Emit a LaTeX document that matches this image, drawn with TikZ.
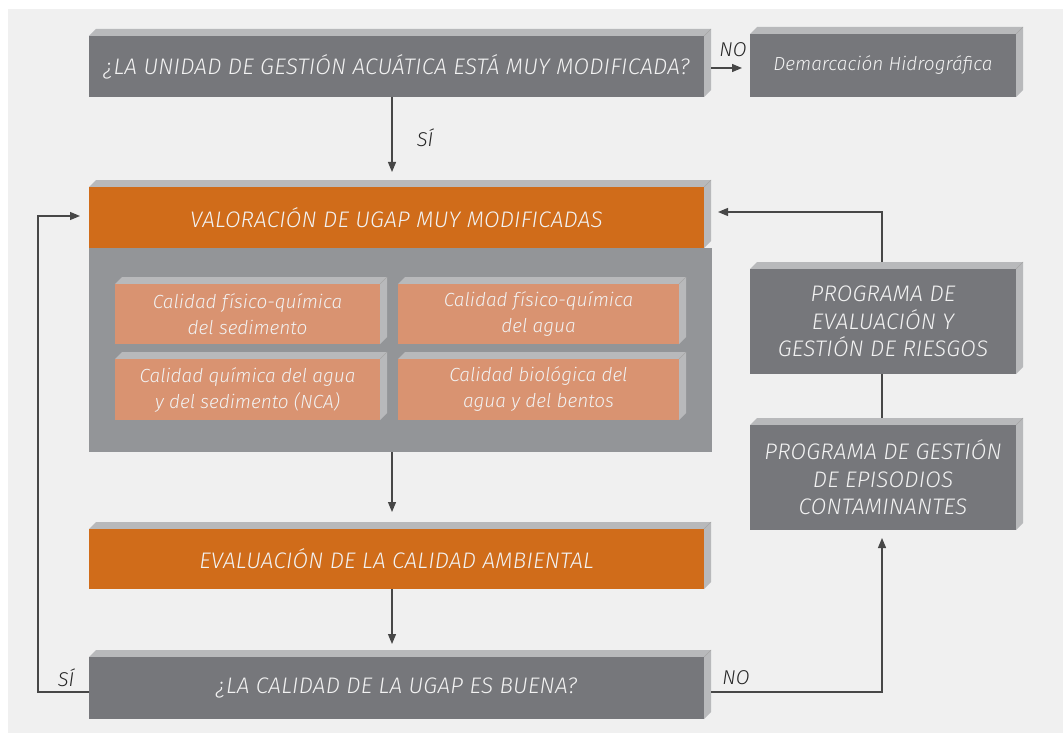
\documentclass[tikz,border=0pt]{standalone}
\usepackage{fontspec}
\setmainfont{Fira Sans}[UprightFont={* Light}, ItalicFont={* Light Italic}]
\newfontfamily\capsfont{Fira Sans}[UprightFont={* Light}, ItalicFont={* Light Italic}, LetterSpace=1]
\usetikzlibrary{arrows.meta}
\definecolor{bgc}{HTML}{F0F0F0}
\definecolor{dgray}{HTML}{76777B}
\definecolor{bodyg}{HTML}{939598}
\definecolor{bevelc}{HTML}{B8B9BB}
\definecolor{orng}{HTML}{D06C1A}
\definecolor{salm}{HTML}{D99371}
\definecolor{txt}{HTML}{F2F2F2}
\definecolor{linec}{HTML}{474747}
\tikzset{
  box/.style={inner sep=0pt, outer sep=0pt, text=txt, align=center, font=\capsfont\itshape\fontsize{22.5}{27.5}\selectfont},
  lbox/.style={box, font=\itshape\fontsize{19}{26}\selectfont},
  conn/.style={draw=linec, line width=1.2pt},
  arr/.style={conn, -{Triangle[length=10pt,width=8pt]}},
  lbl/.style={text=black!85, font=\itshape\fontsize{20}{22}\selectfont, inner sep=0pt}
}
\newcommand\bevbox[8]{% name, x0,y0,x1,y1, fill, style, text
  \fill[bevelc] (#2,#3) -- ({#2+7},{#3-7}) -- ({#4+7},{#3-7}) -- ({#4+7},{#5-7}) -- (#4,#5) -- cycle;
  \draw[black!35, line width=0.4pt] (#4,#3) -- ({#4+7},{#3-7});
  \pgfmathsetmacro\bw{#4-#2}\pgfmathsetmacro\bh{#5-#3}
  \node[#7, fill=#6, minimum width=\bw pt, minimum height=\bh pt] (#1) at ({(#2+#4)/2},{(#3+#5)/2}) {#8};}
\begin{document}
\begin{tikzpicture}[x=1pt,y=-1pt]
\useasboundingbox (0,0) rectangle (1063,733);
\fill[white] (0,0) rectangle (1063,733);
\fill[bgc] (8,9) rectangle (1063,733);
% top question
\bevbox{q1}{89}{36}{704}{97}{dgray}{box}{¿LA UNIDAD DE GESTIÓN ACUÁTICA ESTÁ MUY MODIFICADA?}
\bevbox{dem}{750}{34}{1016}{97}{dgray}{lbox}{Demarcación Hidrográfica}
% valoracion body
\fill[bodyg] (89,248) rectangle (712,452);
\bevbox{val}{89}{187}{704}{248}{orng}{box}{VALORACIÓN DE UGAP MUY MODIFICADAS}
\coordinate (valbot) at (392,452);
\bevbox{c1}{115}{284}{380}{344}{salm}{lbox}{Calidad físico-química\\del sedimento}
\bevbox{c2}{398}{284}{679}{344}{salm}{lbox}{Calidad físico-química\\del agua}
\bevbox{c3}{115}{359}{380}{420}{salm}{lbox}{Calidad química del agua\\y del sedimento (NCA)}
\bevbox{c4}{398}{359}{679}{420}{salm}{lbox}{Calidad biológica del\\agua y del bentos}
\bevbox{eva}{89}{529}{704}{589}{orng}{box}{EVALUACIÓN DE LA CALIDAD AMBIENTAL}
\bevbox{q2}{89}{657}{704}{719}{dgray}{box}{¿LA CALIDAD DE LA UGAP ES BUENA?}
\bevbox{rie}{750}{269}{1016}{374}{dgray}{box}{PROGRAMA DE\\EVALUACIÓN Y\\GESTIÓN DE RIESGOS}
\bevbox{ges}{750}{425}{1016}{530}{dgray}{box}{PROGRAMA DE GESTIÓN\\DE EPISODIOS\\CONTAMINANTES}
% connectors
\draw[arr] (q1.south -| valbot) -- (392,172) coordinate (valtop);
\node[lbl] (si1) at (425,138) {SÍ};
\draw[arr] (711,68) -- (742,68) coordinate (demin);
\node[lbl] (no1) at (733,50) {NO};
\draw[arr] (valbot) -- (392,512);
\draw[arr] (eva.south -| valbot) -- (392,644);
\coordinate (sil) at (38,692);
\draw[arr] (q2.west |- sil) -- (sil) -- (38,216) -- (80,216);
\node[lbl] (si2) at (66,678) {SÍ};
\coordinate (nor) at (882,692);
\draw[arr] (711,692) -- (nor) -- (882,538);
\node[lbl] (no2) at (736,678) {NO};
\draw[conn] (rie.south -| nor) -- (882,418);
\draw[arr] (882,262) -- (882,212) -- (718,212);
\end{tikzpicture}
\end{document}
